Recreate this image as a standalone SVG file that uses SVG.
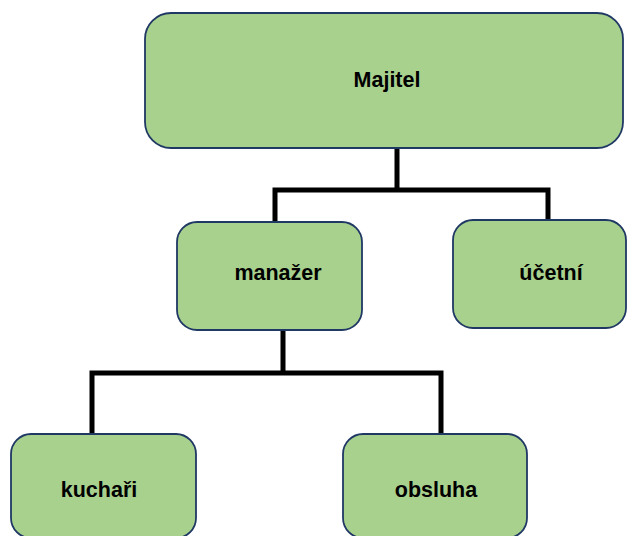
<svg xmlns="http://www.w3.org/2000/svg" width="627" height="536" viewBox="0 0 627 536">
<style>
.box{fill:#A9D18E;stroke:#1F3864;stroke-width:1.8}
.lbl{font-family:"Liberation Sans",Arial,sans-serif;font-weight:bold;font-size:21.5px;fill:#000;text-anchor:middle}
.con{fill:none;stroke:#000;stroke-width:5;stroke-linejoin:miter;stroke-linecap:butt}
</style>
<rect width="627" height="536" fill="#fff"/>
<g id="connectors">
<path class="con" d="M397 148 V190 M275 223 V190 H548 V221"/>
<path class="con" d="M283 330 V373 M92 435 V373 H441 V435"/>
</g>
<g id="majitel">
<rect class="box" x="145" y="13" width="478" height="135" rx="26"/>
<text class="lbl" x="387" y="87">Majitel</text>
</g>
<g id="manazer">
<rect class="box" x="177" y="222" width="185" height="108" rx="20"/>
<text class="lbl" x="278" y="280">manažer</text>
</g>
<g id="ucetni">
<rect class="box" x="453" y="220" width="173" height="108" rx="20"/>
<text class="lbl" x="551" y="280">účetní</text>
</g>
<g id="kuchari">
<rect class="box" x="11" y="434" width="185" height="104" rx="20"/>
<text class="lbl" x="99" y="497">kuchaři</text>
</g>
<g id="obsluha">
<rect class="box" x="343" y="434" width="184" height="104" rx="20"/>
<text class="lbl" x="436" y="497">obsluha</text>
</g>
</svg>
